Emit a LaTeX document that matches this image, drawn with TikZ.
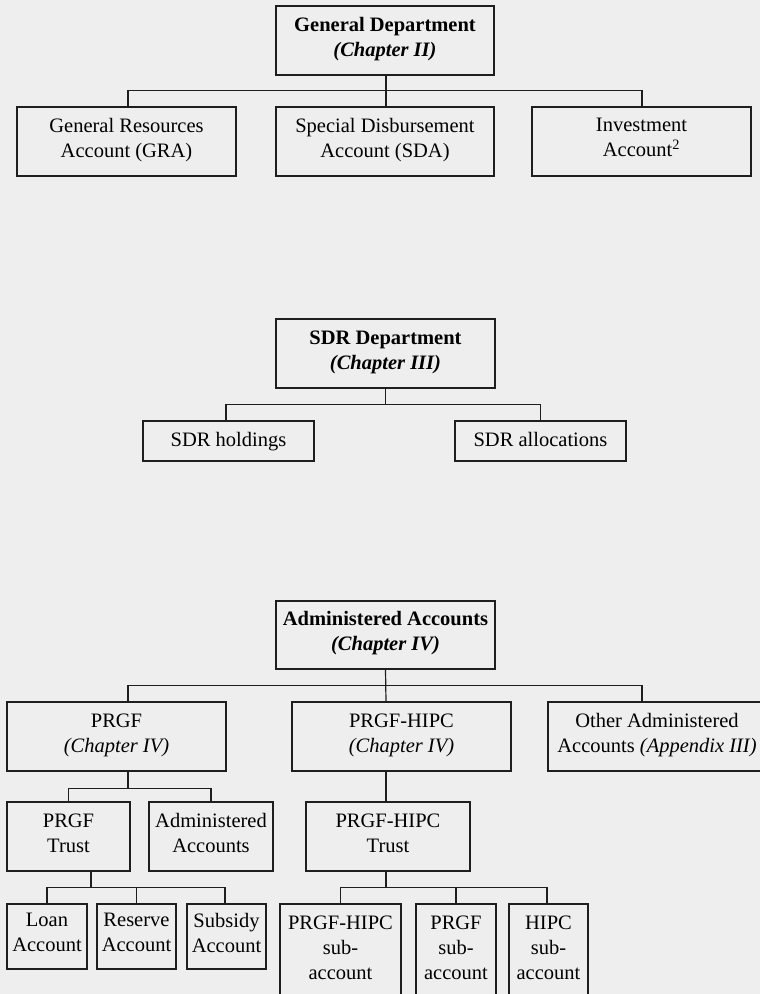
\documentclass[tikz,border=0pt]{standalone}
\usepackage{fontspec}
\setmainfont{Liberation Serif}
\definecolor{bgc}{HTML}{EEEEEE}
\definecolor{lnc}{HTML}{1E1E1E}
\tikzset{
  box/.style={draw=lnc, line width=1.2pt, fill=bgc, align=center, inner sep=0pt,
    font=\fontsize{20.5}{25}\selectfont,
    execute at begin node={\strut}, execute at end node={\strut}},
  conn/.style={draw=lnc, line width=1.2pt}
}
\begin{document}
\begin{tikzpicture}[x=1pt, y=-1pt]
\useasboundingbox (0,0) rectangle (760,994);
\clip (0,0) rectangle (760,994);
\fill[bgc] (0,0) rectangle (760,994);

% ---- General Department ----
\node[box, minimum width=218pt, minimum height=69pt] (gd) at (385,40.5)
  {\textbf{General Department}\\\textbf{\textit{(Chapter II)}}};
\node[box, minimum width=219pt, minimum height=69pt] (gra) at (126.5,141.5)
  {General Resources\\Account (GRA)};
\node[box, minimum width=218pt, minimum height=69pt] (sda) at (385,141.5)
  {Special Disbursement\\Account (SDA)};
\node[box, minimum width=219pt, minimum height=69pt] (inv) at (641.5,141.5)
  {Investment\\Account\textsuperscript{2}};

\draw[conn] ([xshift=1]gd.south) -- ++(0,15) -| ([xshift=1.5]gra.north);
\draw[conn] ([xshift=1]gd.south) -- ++(0,15) -| ([xshift=0.5]inv.north);
\draw[conn] ([xshift=1]gd.south) -- ([xshift=1]sda.north);

% ---- SDR Department ----
\node[box, minimum width=219pt, minimum height=69pt] (sdr) at (385.5,353.5)
  {\textbf{SDR Department}\\\textbf{\textit{(Chapter III)}}};
\node[box, minimum width=171pt, minimum height=40pt] (hold) at (228.5,441)
  {SDR holdings};
\node[box, minimum width=171pt, minimum height=40pt] (alloc) at (540.5,441)
  {SDR allocations};

\draw[conn] (sdr.south) -- ++(0,16) -| ([xshift=-2.5]hold.north);
\draw[conn] (sdr.south) -- ++(0,16) -| (alloc.north);

% ---- Administered Accounts ----
\node[box, minimum width=219pt, minimum height=68pt] (adm) at (385.5,635)
  {\textbf{Administered Accounts}\\\textbf{\textit{(Chapter IV)}}};
\node[box, minimum width=219pt, minimum height=69pt] (prgf) at (116.5,736.5)
  {PRGF\\\textit{(Chapter IV)}};
\node[box, minimum width=219pt, minimum height=69pt] (hipc) at (401.5,736.5)
  {PRGF-HIPC\\\textit{(Chapter IV)}};
\node[box, minimum width=218pt, minimum height=69pt] (other) at (657,736.5)
  {Other Administered\\Accounts \textit{(Appendix III)}};

\draw[conn] (adm.south) -- ++(0,16) -| ([xshift=11.5]prgf.north);
\draw[conn] (adm.south) -- ++(0,16) -| ([xshift=-15]other.north);
\draw[conn] (adm.south) -- ([xshift=-15.5]hipc.north);

% PRGF subtree
\node[box, minimum width=123pt, minimum height=69pt] (ptrust) at (68.5,836.5)
  {PRGF\\Trust};
\node[box, minimum width=124pt, minimum height=69pt] (admacc) at (211,836.5)
  {Administered\\Accounts};
\draw[conn] ([xshift=11.5]prgf.south) -- ++(0,17) -| (ptrust.north);
\draw[conn] ([xshift=11.5]prgf.south) -- ++(0,17) -| (admacc.north);

\node[box, minimum width=80pt, minimum height=65pt] (loan) at (47,936.5)
  {Loan\\Account};
\node[box, minimum width=79pt, minimum height=65pt] (reserve) at (136.5,936.5)
  {Reserve\\Account};
\node[box, minimum width=79pt, minimum height=65pt] (subsidy) at (226.5,936.5)
  {Subsidy\\Account};
\draw[conn] ([xshift=22.5]ptrust.south) -- ++(0,16) -| (loan.north);
\draw[conn] ([xshift=22.5]ptrust.south) -- ++(0,16) -| (reserve.north);
\draw[conn] ([xshift=22.5]ptrust.south) -- ++(0,16) -| ([xshift=-1.5]subsidy.north);

% PRGF-HIPC subtree
\node[box, minimum width=164pt, minimum height=69pt] (htrust) at (388,836.5)
  {PRGF-HIPC\\Trust};
\draw[conn] ([xshift=-15.5]hipc.south) -- ([xshift=-2]htrust.north);

\node[box, minimum width=121pt, minimum height=94pt] (hs1) at (340.5,951)
  {PRGF-HIPC\\sub-\\account};
\node[box, minimum width=80pt, minimum height=94pt] (hs2) at (456,951)
  {PRGF\\sub-\\account};
\node[box, minimum width=79pt, minimum height=94pt] (hs3) at (548.5,951)
  {HIPC\\sub-\\account};
\draw[conn] ([xshift=-2]htrust.south) -- ++(0,16) -| (hs1.north);
\draw[conn] ([xshift=-2]htrust.south) -- ++(0,16) -| (hs2.north);
\draw[conn] ([xshift=-2]htrust.south) -- ++(0,16) -| ([xshift=-1.5]hs3.north);
\end{tikzpicture}
\end{document}
